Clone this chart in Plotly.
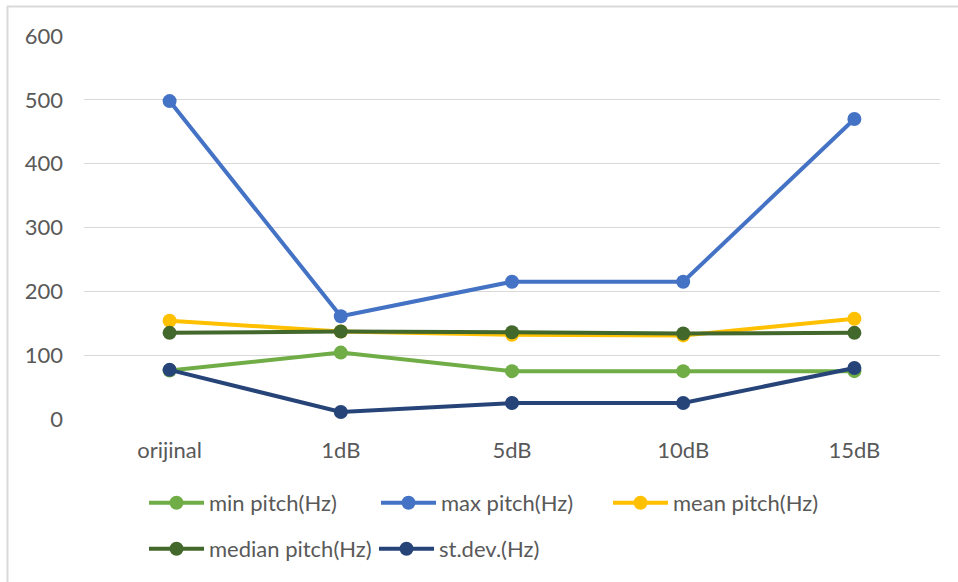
import plotly.graph_objects as go

categories = ["orijinal", "1dB", "5dB", "10dB", "15dB"]
min_pitch = [76, 104, 75, 75, 75]
max_pitch = [498, 161, 215, 215, 470]
mean_pitch = [154, 137, 132, 131, 157]
median_pitch = [135, 137, 136, 134, 135]
stdev_pitch = [77, 11, 25, 25, 80]
y_ticks = [0, 100, 200, 300, 400, 500, 600]

series = [
    ("min pitch(Hz)", min_pitch, "#70AD47"),
    ("max pitch(Hz)", max_pitch, "#4472C4"),
    ("mean pitch(Hz)", mean_pitch, "#FFC000"),
    ("median pitch(Hz)", median_pitch, "#43682B"),
    ("st.dev.(Hz)", stdev_pitch, "#264478"),
]

W, H = 958, 582
L, R, T, B = 84, 18, 36, 163
pw, ph = W - L - R, H - T - B

def px_x(x):
    return (x - L) / pw

def px_y(y):
    return (H - B - y) / ph

FONT = "Lato"
FS = 22
GREY = "#595959"

# legend positions (pixel coords of each entry's left edge / vertical centre)
legend_pos = [(144, 503), (376, 503), (608, 503), (144, 549), (374, 549)]

fig = go.Figure()
legends = {}
for i, (name, vals, color) in enumerate(series):
    lg = "legend" if i == 0 else f"legend{i + 1}"
    fig.add_trace(go.Scatter(
        x=categories, y=vals, name=name, mode="lines+markers",
        line=dict(color=color, width=4),
        marker=dict(color=color, size=14),
        legend=lg,
    ))
    lx, ly = legend_pos[i]
    legends[lg] = dict(
        x=px_x(lx), y=px_y(ly), xanchor="left", yanchor="middle",
        xref="paper", yref="paper",
        font=dict(family=FONT, size=FS, color=GREY),
        bgcolor="rgba(0,0,0,0)", itemwidth=55,
    )

fig.update_layout(
    width=W, height=H,
    margin=dict(l=L, r=R, t=T, b=B, autoexpand=False),
    paper_bgcolor="white", plot_bgcolor="white",
    font=dict(family=FONT, size=FS, color=GREY),
    xaxis=dict(
        range=[-0.5, 4.5],
        showgrid=False, showline=False, zeroline=False, ticks="",
        ticklabelstandoff=16,
        tickfont=dict(size=FS, color=GREY),
    ),
    yaxis=dict(
        range=[0, 600], tickvals=y_ticks, showgrid=True,
        gridcolor="#D9D9D9", gridwidth=1, zeroline=False, showline=False,
        ticks="", ticklabelstandoff=20,
        tickfont=dict(size=FS, color=GREY),
    ),
    showlegend=True,
    shapes=[
        dict(type="line", xref="paper", yref="paper",
             x0=px_x(7), x1=px_x(958), y0=px_y(6.5), y1=px_y(6.5),
             line=dict(color="#D9D9D9", width=2)),
        dict(type="line", xref="paper", yref="paper",
             x0=px_x(7.5), x1=px_x(7.5), y0=px_y(6), y1=px_y(582),
             line=dict(color="#D9D9D9", width=2)),
    ],
    **legends,
)

fig.write_html("out.html")
